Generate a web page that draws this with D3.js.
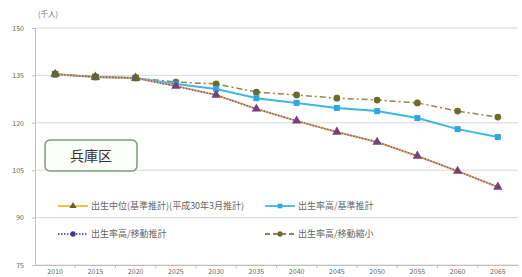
<!DOCTYPE html>
<html>
<head>
<meta charset="utf-8">
<script src="https://cdn.jsdelivr.net/npm/d3@7"></script>
<style>
body { margin: 0; background: #fff; }
text { font-family: "Noto Sans CJK JP", "Noto Sans", sans-serif; }
</style>
</head>
<body>
<svg width="522" height="277"></svg>
<script>
const years = ['2010','2015','2020','2025','2030','2035','2040','2045','2050','2055','2060','2065'];
const yTicks = [75, 90, 105, 120, 135, 150];

const baseCase = [135.4, 134.5, 134.2, 131.6, 128.8, 124.4, 120.6, 117.1, 113.9, 109.5, 104.7, 99.7];
const highBirth = [135.4, 134.5, 134.2, 132.3, 130.7, 127.8, 126.3, 124.7, 123.7, 121.5, 118.0, 115.5];
const lowMove = [135.4, 134.5, 134.2, 131.6, 128.8, 124.4, 120.6, 117.1, 113.9, 109.5, 104.7, 99.7];
const highMove = [135.4, 134.5, 134.2, 132.9, 132.3, 129.7, 128.8, 127.8, 127.2, 126.3, 123.7, 121.8];

const seriesNames = ['出生中位(基準推計)(平成30年3月推計)', '出生率高/基準推計', '出生率高/移動推計', '出生率高/移動縮小'];

const svg = d3.select('svg');
const plotL = 35, plotR = 518, plotT = 28, plotB = 265;

const x = d3.scaleBand().domain(years).range([plotL, plotR]);
const y = d3.scaleLinear().domain([75, 150]).range([plotB, plotT]);

// grid
svg.selectAll('.grid').data(yTicks).join('line')
  .attr('x1', plotL).attr('x2', plotR)
  .attr('y1', d => y(d)).attr('y2', d => y(d))
  .attr('stroke', '#d9d9d9').attr('stroke-width', 1);

// y axis
const yAxis = svg.append('g').attr('transform', `translate(${plotL},0)`)
  .call(d3.axisLeft(y).tickValues(yTicks).tickSize(3).tickPadding(8));
yAxis.select('.domain').attr('stroke', '#bfbfbf');
yAxis.selectAll('.tick line').attr('stroke', '#bfbfbf');
yAxis.selectAll('text').attr('fill', '#666').style('font-size', '7px');

// x axis
const xAxis = svg.append('g').attr('transform', `translate(0,${plotB})`)
  .call(d3.axisBottom(x).tickSize(0).tickPadding(4));
xAxis.select('.domain').attr('stroke', '#bfbfbf');
xAxis.selectAll('text').attr('fill', '#666').style('font-size', '7px');
svg.selectAll('.xtick').data(years.slice(1)).join('line')
  .attr('x1', d => x(d)).attr('x2', d => x(d))
  .attr('y1', plotB).attr('y2', plotB + 3)
  .attr('stroke', '#bfbfbf');

svg.append('text').attr('x', 38).attr('y', 17)
  .attr('fill', '#777').style('font-size', '7.5px').text('(千人)');

const cx = d => x(d) + x.bandwidth() / 2;
const line = d3.line().x((d, i) => cx(years[i])).y(d => y(d));

// series
const series = [
  {data: highMove, color: '#a0804a', dash: '6,3,2,3', width: 1.5, marker: 'circle', fill: '#6b6b2e'},
  {data: highBirth, color: '#3fb6e8', dash: null, width: 2, marker: 'square', fill: '#2fa8e0'},
  {data: baseCase, color: '#f0b040', dash: null, width: 2, marker: 'triangle', fill: '#7a3f78'},
  {data: lowMove, color: '#6a5ac8', dash: '1.5,1.5', width: 1.5, marker: 'none', fill: '#3a3a8a'}
];

series.forEach(s => {
  svg.append('path').datum(s.data)
    .attr('d', line).attr('fill', 'none')
    .attr('stroke', s.color).attr('stroke-width', s.width)
    .attr('stroke-dasharray', s.dash);
});
series.forEach(s => {
  if (s.marker === 'none') return;
  const sym = s.marker === 'circle' ? d3.symbolCircle : s.marker === 'square' ? d3.symbolSquare : d3.symbolTriangle;
  svg.selectAll(null).data(s.data).join('path')
    .attr('d', d3.symbol().type(sym).size(s.marker === 'triangle' ? 38 : 36))
    .attr('transform', (d, i) => `translate(${cx(years[i])},${y(d)})`)
    .attr('fill', s.fill);
});
// first three points overlap: olive marker on top
svg.selectAll(null).data(highMove.slice(0, 3)).join('path')
  .attr('d', d3.symbol().type(d3.symbolSquare).size(42))
  .attr('transform', (d, i) => `translate(${cx(years[i])},${y(d)})`)
  .attr('fill', '#5e6a35');

// area label box
svg.append('rect').attr('x', 45).attr('y', 140).attr('width', 92).attr('height', 31)
  .attr('rx', 5).attr('fill', '#fbfdf9').attr('stroke', '#7c9a7c').attr('stroke-width', 1.5);
svg.append('text').attr('x', 91).attr('y', 161).attr('text-anchor', 'middle')
  .attr('fill', '#333').style('font-size', '14px').text('兵庫区');

// legend
const legend = [
  {name: seriesNames[0], color: '#f0c020', dash: null, fill: '#6b5a2a', sym: d3.symbolTriangle, lx: 58, ly: 206},
  {name: seriesNames[1], color: '#3fb6e8', dash: null, fill: '#2fa8e0', sym: d3.symbolSquare, lx: 265, ly: 206},
  {name: seriesNames[2], color: '#6a5ac8', dash: '1.5,1.5', fill: '#3a3a8a', sym: d3.symbolCircle, lx: 58, ly: 234},
  {name: seriesNames[3], color: '#a0804a', dash: '5,3', fill: '#6b6b2e', sym: d3.symbolCircle, lx: 265, ly: 234}
];
const lg = svg.selectAll('.lg').data(legend).join('g')
  .attr('transform', d => `translate(${d.lx},${d.ly})`);
lg.append('line').attr('x1', 0).attr('x2', 30)
  .attr('stroke', d => d.color).attr('stroke-width', 1.8)
  .attr('stroke-dasharray', d => d.dash);
lg.append('path').attr('d', d => d3.symbol().type(d.sym).size(22)())
  .attr('transform', 'translate(15,0)').attr('fill', d => d.fill);
lg.append('text').attr('x', 33).attr('y', 3)
  .attr('fill', '#666').style('font-size', '9px').text(d => d.name);
</script>
</body>
</html>
